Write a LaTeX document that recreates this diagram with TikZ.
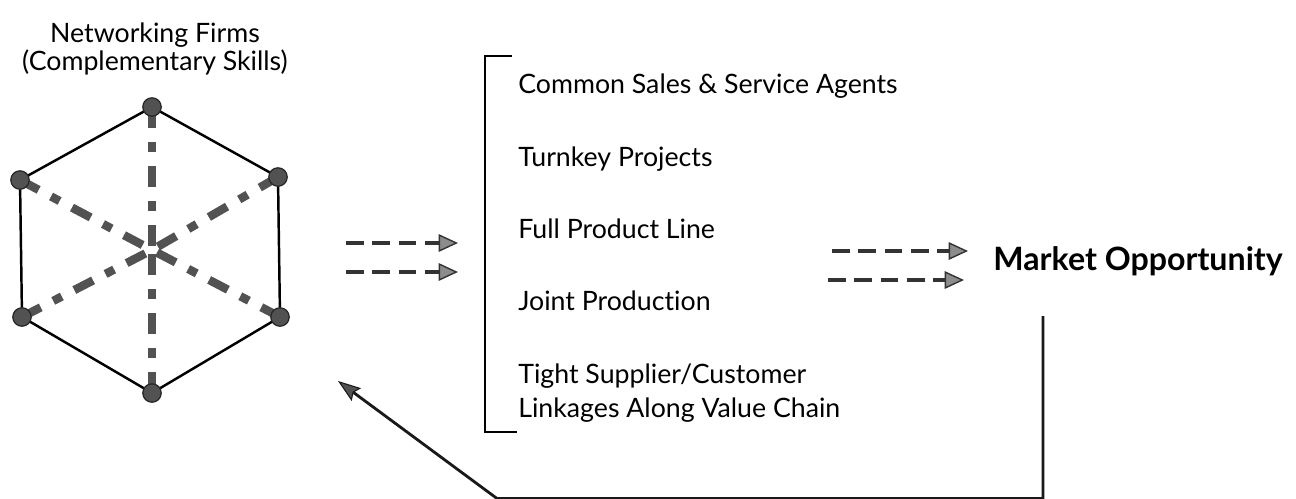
\documentclass[tikz,border=0pt]{standalone}
\usepackage{fontspec}
\setmainfont{Lato}[Ligatures=NoCommon]
\usetikzlibrary{arrows.meta}

\definecolor{spokegray}{gray}{0.32}
\definecolor{headgray}{gray}{0.55}

\tikzset{
    label text/.style={font=\fontsize{15.2}{16}\selectfont, inner sep=0pt},
    item/.style={label text, anchor=base west},
    firm/.style={circle, draw=black!85, fill=spokegray, line width=0.7pt, minimum size=10.5pt, inner sep=0pt},
    spoke/.style={spokegray, line width=4.8pt, dash pattern=on 12pt off 8pt on 5.5pt off 8pt},
    edge/.style={black, line width=1.4pt, line join=round},
    flow/.style={black!80, line width=2.8pt, dash pattern=on 10pt off 5pt,
        -{Triangle[length=11pt, width=10pt, line width=0.8pt, fill=headgray]}},
    feedback/.style={black!90, line width=1.6pt,
        -{Stealth[length=13pt, width=9pt, inset=2pt, line width=0.6pt, fill=spokegray]}}
}

\begin{document}
\begin{tikzpicture}[x=0.02cm, y=-0.02cm]
    \useasboundingbox (0,0) rectangle (1296,498);

    % hexagon of networking firms
    \node[label text, align=center] (title) at (155,49) {Networking Firms\\(Complementary Skills)};
    \coordinate (hub) at (152,250);
    \foreach \x/\y [count=\i] in {152/107, 278/177, 280/317, 152/393, 22/317, 20/180}
        \coordinate (p\i) at (\x,\y);
    \foreach \i in {1,...,6}
        \draw[spoke] (p\i) -- (hub);
    \draw[edge] (p1) -- (p2) -- (p3) -- (p4) -- (p5) -- (p6) -- cycle;
    \foreach \i in {1,...,6}
        \node[firm] (firm\i) at (p\i) {};

    % forms of cooperation
    \draw[edge, line width=1.3pt, line join=miter] (512,56) -- (485,56) -- (485,432) -- (517,432);
    \node[item] (sales)   at (518,93)  {Common Sales \& Service Agents};
    \node[item] (turnkey) at (518,166) {Turnkey Projects};
    \node[item] (line)    at (518,238) {Full Product Line};
    \node[item] (joint)   at (518,310) {Joint Production};
    \node[item] (tight)   at (518,383) {Tight Supplier/Customer};
    \node[item] (chain)   at (518,417) {Linkages Along Value Chain};

    \node[anchor=base west, inner sep=0pt, font=\bfseries\fontsize{18.3}{20}\selectfont] (market) at (993,270) {Market Opportunity};

    % dashed arrows
    \coordinate (fa1) at (346,243); \coordinate (fb1) at (458,243);
    \coordinate (fa2) at (346,272); \coordinate (fb2) at (458,272);
    \coordinate (ma1) at (832,251); \coordinate (mb1) at (968,251);
    \coordinate (ma2) at (828,280); \coordinate (mb2) at (964,280);
    \draw[flow] (fa1) -- (fb1);
    \draw[flow] (fa2) -- (fb2);
    \draw[flow] (ma1) -- (mb1);
    \draw[flow] (ma2) -- (mb2);

    % feedback back to the firms
    \coordinate (fbtop) at (1043,316);
    \coordinate (fbturn) at (497,498.5);
    \coordinate (fbend) at (338,381);
    \draw[feedback] (fbtop) |- (fbturn) -- (fbend);
\end{tikzpicture}
\end{document}
